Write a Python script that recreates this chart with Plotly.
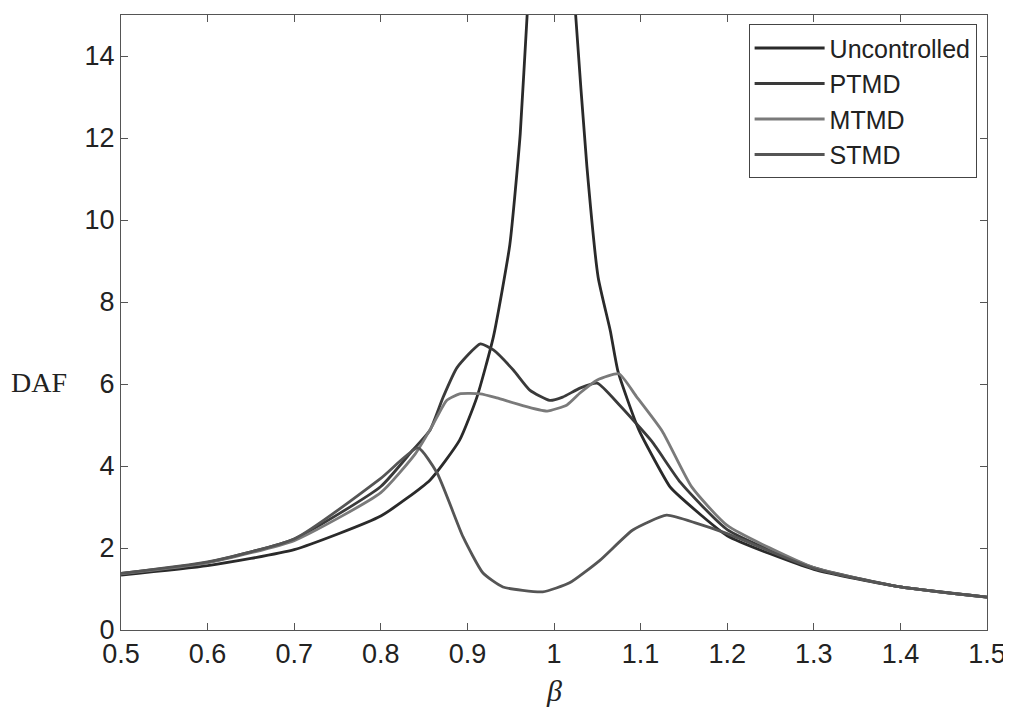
import plotly.graph_objects as go

# Uncontrolled
unc_x = [0.5, 0.6, 0.7, 0.8, 0.857, 0.891, 0.911, 0.93, 0.949, 0.961, 0.969, 1.0, 1.025, 1.038, 1.051, 1.065, 1.074, 1.098, 1.134, 1.146, 1.2, 1.3, 1.4, 1.5]
unc_y = [1.34, 1.57, 1.96, 2.78, 3.66, 4.63, 5.68, 7.15, 9.4, 12.1, 15.0, 24.0, 15.0, 11.3, 8.6, 7.3, 6.3, 4.88, 3.49, 3.24, 2.3, 1.48, 1.05, 0.8]

# PTMD
ptmd_x = [0.5, 0.6, 0.7, 0.8, 0.837, 0.857, 0.872, 0.888, 0.915, 0.93, 0.953, 0.972, 0.995, 1.01, 1.03, 1.05, 1.075, 1.113, 1.146, 1.2, 1.3, 1.4, 1.5]
ptmd_y = [1.38, 1.65, 2.22, 3.5, 4.39, 4.88, 5.68, 6.4, 6.98, 6.83, 6.34, 5.85, 5.6, 5.68, 5.9, 6.02, 5.5, 4.6, 3.6, 2.45, 1.52, 1.05, 0.8]

# MTMD
mtmd_x = [0.5, 0.6, 0.7, 0.8, 0.84, 0.86, 0.876, 0.891, 0.915, 0.934, 0.961, 0.992, 1.015, 1.03, 1.05, 1.075, 1.095, 1.125, 1.159, 1.2, 1.3, 1.4, 1.5]
mtmd_y = [1.37, 1.64, 2.18, 3.35, 4.3, 5.0, 5.6, 5.76, 5.76, 5.66, 5.49, 5.34, 5.49, 5.78, 6.1, 6.25, 5.7, 4.85, 3.49, 2.55, 1.52, 1.05, 0.8]

# STMD
stmd_x = [0.5, 0.6, 0.7, 0.8, 0.843, 0.865, 0.895, 0.918, 0.941, 0.987, 1.018, 1.053, 1.091, 1.13, 1.165, 1.2, 1.3, 1.4, 1.5]
stmd_y = [1.38, 1.66, 2.22, 3.7, 4.44, 3.83, 2.27, 1.39, 1.05, 0.93, 1.15, 1.7, 2.44, 2.8, 2.6, 2.35, 1.5, 1.05, 0.8]

names = ["Uncontrolled", "PTMD", "MTMD", "STMD"]
colors = ["#2a2a2a", "#3a3a3a", "#7a7a7a", "#555555"]

x_ticks = [0.5, 0.6, 0.7, 0.8, 0.9, 1.0, 1.1, 1.2, 1.3, 1.4, 1.5]
x_labels = ["0.5", "0.6", "0.7", "0.8", "0.9", "1", "1.1", "1.2", "1.3", "1.4", "1.5"]
y_ticks = [0, 2, 4, 6, 8, 10, 12, 14]

fig = go.Figure()
for xs, ys, n, c in zip([unc_x, ptmd_x, mtmd_x, stmd_x], [unc_y, ptmd_y, mtmd_y, stmd_y], names, colors):
    fig.add_trace(go.Scatter(x=xs, y=ys, mode="lines", name=n,
                             line=dict(color=c, width=2.8, shape="spline", smoothing=0.5)))

font_main = "Liberation Sans, Arial, sans-serif"
fig.update_layout(
    width=1011, height=710,
    margin=dict(l=113, r=32, t=7, b=88, autoexpand=False),
    paper_bgcolor="white", plot_bgcolor="white",
    font=dict(family=font_main, size=27, color="#222"),
    showlegend=True,
    legend=dict(x=0.988, y=0.985, xanchor="right", yanchor="top",
                bgcolor="white", bordercolor="#444", borderwidth=1,
                font=dict(family=font_main, size=25, color="#222"),
                itemwidth=70, tracegroupgap=0),
    xaxis=dict(range=[0.5, 1.5], tickvals=x_ticks, ticktext=x_labels, automargin=False,
               showgrid=False, zeroline=False, showline=True, linecolor="#555", linewidth=1,
               mirror="ticks", ticks="inside", ticklen=7, tickcolor="#555"),
    yaxis=dict(range=[0, 15], tickvals=y_ticks, automargin=False,
               showgrid=False, zeroline=False, showline=True, linecolor="#555", linewidth=1,
               mirror="ticks", ticks="inside", ticklen=7, tickcolor="#555"),
    annotations=[
        dict(text="DAF", x=-0.095, y=0.402, xref="paper", yref="paper", showarrow=False,
             xanchor="center", yanchor="middle",
             font=dict(family="Liberation Serif, Times New Roman, serif", size=28, color="#222")),
        dict(text="<i>β</i>", x=0.5, y=-0.0976, xref="paper", yref="paper", showarrow=False,
             xanchor="center", yanchor="middle",
             font=dict(family="Liberation Serif, Times New Roman, serif", size=30, color="#222")),
    ],
)

fig.write_html("out.html")
